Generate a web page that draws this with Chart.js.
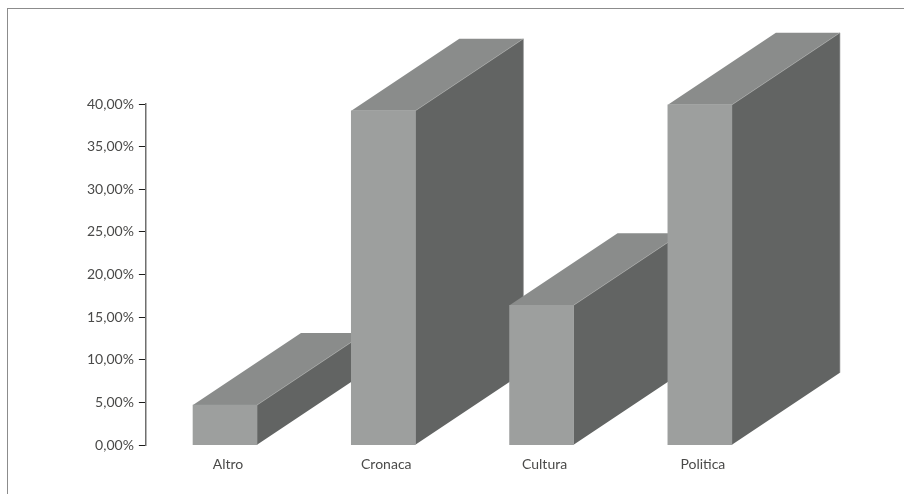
<!DOCTYPE html>
<html>
<head>
<meta charset="utf-8">
<style>
  html, body { margin: 0; padding: 0; background: #fff; overflow: hidden; }
  #wrap { position: relative; width: 904px; height: 494px; }
  #frame { position: absolute; left: 7px; top: 8px; right: 0; bottom: 0;
           border-left: 1px solid #8c8c8c; border-top: 1px solid #8c8c8c; }
  canvas { position: absolute; left: 0; top: 0; }
</style>
<script src="https://cdn.jsdelivr.net/npm/chart.js@4"></script>
</head>
<body>
<div id="wrap">
  <div id="frame"></div>
  <canvas id="chart" width="904" height="494"></canvas>
</div>
<script>
const categories = ["Altro", "Cronaca", "Cultura", "Politica"];
const shares = [4.7, 39.2, 16.4, 39.9];
const tickStep = 5;
const axisMax = 40;

// the fake 3d: top and side faces pushed back behind each front bar
const depthX = 108;
const depthY = 72;

const extrude = {
    id: "extrude",
    beforeDatasetsDraw(chart) {
        const ctx = chart.ctx;
        chart.getDatasetMeta(0).data.forEach(bar => {
            const p = bar.getProps(["x", "y", "base", "width"], true);
            const left = p.x - p.width / 2;
            const right = p.x + p.width / 2;

            // side
            ctx.beginPath();
            ctx.moveTo(right, p.y);
            ctx.lineTo(right + depthX, p.y - depthY);
            ctx.lineTo(right + depthX, p.base - depthY);
            ctx.lineTo(right, p.base);
            ctx.closePath();
            ctx.fillStyle = "#626463";
            ctx.fill();
            ctx.strokeStyle = "#808281";
            ctx.lineWidth = 0.6;
            ctx.beginPath();
            ctx.moveTo(right + depthX, p.y - depthY);
            ctx.lineTo(right + depthX, p.base - depthY);
            ctx.stroke();

            // top
            ctx.beginPath();
            ctx.moveTo(left, p.y);
            ctx.lineTo(left + depthX, p.y - depthY);
            ctx.lineTo(right + depthX, p.y - depthY);
            ctx.lineTo(right, p.y);
            ctx.closePath();
            ctx.fillStyle = "#8a8c8b";
            ctx.fill();
            ctx.strokeStyle = "#a4a6a5";
            ctx.beginPath();
            ctx.moveTo(right, p.y);
            ctx.lineTo(right + depthX, p.y - depthY);
            ctx.stroke();
        });
    }
};

new Chart(document.getElementById("chart").getContext("2d"), {
    type: "bar",
    plugins: [extrude],
    data: {
        labels: categories,
        datasets: [{
            data: shares,
            backgroundColor: "#9d9f9e",
            barThickness: 64
        }]
    },
    options: {
        responsive: false,
        animation: false,
        events: [],
        layout: { padding: { left: 82, right: 125, top: 104, bottom: 10 } },
        plugins: { legend: { display: false }, tooltip: { enabled: false } },
        scales: {
            x: {
                grid: { display: false, drawTicks: false },
                border: { display: false },
                ticks: {
                    color: "#4a4a49",
                    font: { family: "Lato", size: 14 },
                    padding: 11,
                    labelOffset: 3,
                    maxRotation: 0
                }
            },
            y: {
                min: 0,
                max: axisMax,
                grid: { drawOnChartArea: false, drawTicks: true, tickLength: 7, color: "#1d1d1b" },
                border: { display: true, color: "#6f6f6e", width: 1.5 },
                ticks: {
                    stepSize: tickStep,
                    color: "#4a4a49",
                    font: { family: "Lato", size: 14 },
                    padding: 5,
                    callback: v => v.toFixed(2).replace(".", ",") + "%"
                }
            }
        }
    }
});
</script>
</body>
</html>
